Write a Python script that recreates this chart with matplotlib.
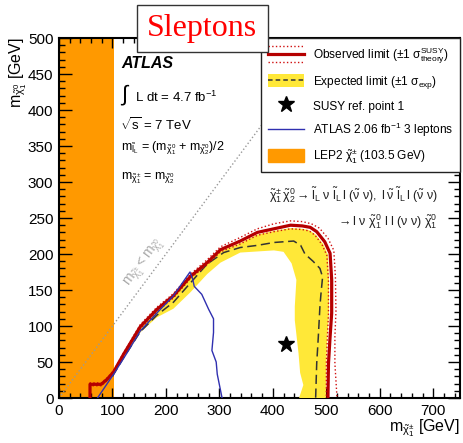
import matplotlib
matplotlib.use("Agg")
import matplotlib.pyplot as plt
from matplotlib.lines import Line2D
from matplotlib.patches import Patch, Rectangle
from matplotlib.legend_handler import HandlerBase
from matplotlib.ticker import MultipleLocator

plt.rcParams['font.family'] = ['Liberation Sans', 'DejaVu Sans']
plt.rcParams['mathtext.fontset'] = 'custom'
plt.rcParams['mathtext.rm'] = 'Liberation Sans'
plt.rcParams['mathtext.it'] = 'Liberation Sans:italic'
plt.rcParams['mathtext.bf'] = 'Liberation Sans:bold'
plt.rcParams['mathtext.default'] = 'regular'

# ---------------- data ----------------
lep_limit = 103.5

obs_x = [58, 58, 79, 90, 102, 121, 152, 183, 214, 246, 277, 302, 339, 371, 402, 433, 455, 470, 482, 497, 507, 510, 510, 507, 504, 503]
obs_y = [0, 19, 19, 26, 36, 61, 99, 123, 142, 169, 188, 206, 218, 230, 235, 240, 239, 237, 231, 217, 201, 164, 118, 85, 48, 0]

obs_up_x = [58, 58, 79, 90, 102, 121, 152, 183, 214, 246, 277, 302, 339, 371, 402, 433, 455, 472, 487, 503, 514, 517, 518, 516, 516, 520]
obs_up_y = [0, 21, 21, 28, 38, 63, 102, 126, 145, 172, 192, 210, 223, 235, 242, 246, 245, 242, 236, 222, 205, 168, 120, 85, 48, 0]

obs_dn_x = [58, 58, 79, 90, 102, 121, 152, 183, 214, 246, 277, 302, 339, 371, 402, 433, 455, 468, 479, 492, 501, 504, 504, 502, 500, 500]
obs_dn_y = [0, 17, 17, 24, 34, 59, 96, 120, 139, 166, 185, 203, 214, 226, 231, 235, 234, 232, 226, 213, 198, 162, 117, 85, 48, 0]

exp_x = [100, 120, 152, 183, 214, 246, 277, 308, 339, 371, 402, 439, 452, 460, 475, 488, 493, 490, 488, 485, 482, 480]
exp_y = [30, 55, 92, 115, 133, 160, 186, 202, 209, 212, 216, 218, 212, 200, 190, 180, 168, 145, 127, 85, 48, 0]

band_out_x = [112, 121, 152, 183, 214, 246, 277, 302, 339, 371, 402, 433, 455, 468, 480, 494, 503, 505, 505, 502, 500, 499]
band_out_y = [50, 59, 97, 121, 140, 167, 186, 204, 215, 227, 232, 236, 235, 233, 227, 214, 199, 163, 118, 85, 48, 0]

band_in_x = [112, 130, 152, 183, 214, 246, 277, 302, 339, 402, 420, 435, 444, 441, 441, 448, 451, 457, 449]
band_in_y = [50, 65, 91, 112, 124, 147, 172, 188, 202, 205, 203, 187, 164, 127, 108, 62, 35, 18, 0]

atl_x = [72, 102, 125, 152, 183, 214, 245, 250, 253, 267, 280, 289, 289, 286, 294, 296, 305]
atl_y = [0, 33, 60, 93, 118, 142, 175, 165, 155, 144, 123, 110, 91, 66, 50, 33, 0]

ref_x = [425]
ref_y = [75]

diag = [0, 500]

x_ticks = [0, 100, 200, 300, 400, 500, 600, 700]
y_ticks = [0, 50, 100, 150, 200, 250, 300, 350, 400, 450, 500]

# ---------------- style ----------------
c_orange = '#ff9900'
c_yellow = '#ffe838'
c_red = '#b50000'
c_red_dot = '#d01010'
c_blue = '#3030b0'

fig = plt.figure(figsize=(4.63, 4.43), dpi=100)
ax = fig.add_axes([59/463, 45/443, 401/463, 360/443])

ax.axvspan(0, lep_limit, color=c_orange, lw=0, zorder=1)
ax.plot(diag, diag, color='#999999', ls=':', lw=1.0, zorder=2)

band_px = band_out_x + band_in_x[::-1]
band_py = band_out_y + band_in_y[::-1]
ax.fill(band_px, band_py, color=c_yellow, lw=0, zorder=3)

ax.plot(exp_x, exp_y, color='#333333', ls=(0, (6, 3)), lw=1.1, zorder=4)
ax.plot(obs_up_x, obs_up_y, color=c_red_dot, ls=':', lw=1.0, zorder=5)
ax.plot(obs_dn_x, obs_dn_y, color=c_red_dot, ls=':', lw=1.0, zorder=5)
ax.plot(obs_x, obs_y, color=c_red, lw=2.3, zorder=6)
ax.plot(atl_x, atl_y, color=c_blue, lw=1.0, zorder=7)
ax.plot(ref_x, ref_y, ls='none', marker='*', color='k', markersize=12, zorder=8)

ax.set_xlim(0, 750)
ax.set_ylim(0, 500)
ax.set_xticks(x_ticks)
ax.set_yticks(y_ticks)
ax.xaxis.set_minor_locator(MultipleLocator(20))
ax.yaxis.set_minor_locator(MultipleLocator(10))
ax.tick_params(which='both', direction='in', top=True, right=True, labelsize=11, width=1.0)
ax.tick_params(axis='x', which='major', length=7, pad=4)
ax.tick_params(axis='x', which='minor', length=3.5)
ax.tick_params(axis='y', which='major', length=9, pad=4)
ax.tick_params(axis='y', which='minor', length=4.5)
for s in ax.spines.values():
    s.set_linewidth(1.5)

# diagonal label
ax.text(160, 187, r'$m_{\tilde{\chi}^{\pm}_{1}} < m_{\tilde{\chi}^{0}_{1}}$', color='#aaaaaa',
        fontsize=10, rotation=53.5, ha='center', va='center', rotation_mode='anchor', zorder=2)

# ATLAS labels
ax.text(0.155, 0.93, 'ATLAS', transform=ax.transAxes, fontsize=11.5, fontweight='bold',
        fontstyle='italic', ha='left', va='center')
ax.text(0.152, 0.84, r'$\int$', transform=ax.transAxes, fontsize=16, ha='left', va='center')
ax.text(0.19, 0.836, r'L dt = 4.7 fb$^{-1}$', transform=ax.transAxes, fontsize=9.5, ha='left', va='center')
ax.text(0.152, 0.761, r'$\sqrt{s}$ = 7 TeV', transform=ax.transAxes, fontsize=9.5, ha='left', va='center')
ax.text(0.155, 0.694, r'$m_{\tilde{l}_{L}}$ = ($m_{\tilde{\chi}^{0}_{1}}$ + $m_{\tilde{\chi}^{0}_{2}}$)/2',
        transform=ax.transAxes, fontsize=9, ha='left', va='center')
ax.text(0.155, 0.611, r'$m_{\tilde{\chi}^{\pm}_{1}}$ = $m_{\tilde{\chi}^{0}_{2}}$',
        transform=ax.transAxes, fontsize=9, ha='left', va='center')

ax.text(0.945, 0.565, r'$\tilde{\chi}^{\pm}_{1}\,\tilde{\chi}^{0}_{2} \rightarrow \tilde{l}_{L}\ \nu\ \tilde{l}_{L}\,l\ (\tilde{\nu}\ \nu),\ l\,\tilde{\nu}\ \tilde{l}_{L}\,l\ (\tilde{\nu}\ \nu)$',
        transform=ax.transAxes, fontsize=9, ha='right', va='center', color='#222222')
ax.text(0.945, 0.49, r'$\rightarrow l\ \nu\ \tilde{\chi}^{0}_{1}\ l\ l\ (\nu\ \nu)\ \tilde{\chi}^{0}_{1}$',
        transform=ax.transAxes, fontsize=9, ha='right', va='center', color='#222222')


class ObsHandler(HandlerBase):
    def create_artists(self, legend, orig_handle, xdescent, ydescent, width, height, fontsize, trans):
        y0 = height / 2 - ydescent
        arts = []
        for dy, ls, lw, c in [(0, '-', 2.3, c_red), (height * 0.6, ':', 1.0, c_red_dot), (-height * 0.6, ':', 1.0, c_red_dot)]:
            l = Line2D([-xdescent, width - xdescent], [y0 + dy, y0 + dy], color=c, ls=ls, lw=lw, transform=trans)
            arts.append(l)
        return arts


obs_handle = object()
handles = [
    obs_handle,
    (Patch(facecolor=c_yellow, edgecolor='none'), Line2D([], [], color='#333333', ls=(0, (3, 2)), lw=1.1)),
    Line2D([], [], ls='none', marker='*', color='k', markersize=12),
    Line2D([], [], color=c_blue, lw=1.0),
    Patch(facecolor=c_orange, edgecolor=c_orange),
]
labels = [
    r'Observed limit ($\pm$1 $\sigma^{\rm SUSY}_{\rm theory}$)',
    r'Expected limit ($\pm$1 $\sigma_{\rm exp}$)',
    'SUSY ref. point 1',
    r'ATLAS 2.06 fb$^{-1}$ 3 leptons',
    r'LEP2 $\tilde{\chi}^{\pm}_{1}$ (103.5 GeV)',
]
leg = ax.legend(handles, labels, handler_map={obs_handle: ObsHandler()}, loc='upper right',
                bbox_to_anchor=(1.0, 1.0), borderaxespad=0, fontsize=8.6, frameon=True,
                fancybox=False, framealpha=1, edgecolor='#222222', handlelength=3.0,
                handleheight=1.3, handletextpad=0.7, labelspacing=0.68, borderpad=0.6)
leg.get_frame().set_linewidth(1.0)
leg.set_zorder(20)

# axis labels
fig.text(18/463, 1 - 37/443, r'$m_{\tilde{\chi}^{0}_{1}}$ [GeV]', rotation=90, ha='center', va='top', fontsize=11.5)
fig.text(460/463, 1 - 428/443, r'$m_{\tilde{\chi}^{\pm}_{1}}$ [GeV]', ha='right', va='center', fontsize=11.5)

# Sleptons box
fig.patches.append(Rectangle((137/463, 1 - 52/443), 131/463, 47/443, transform=fig.transFigure,
                             facecolor='white', edgecolor='#333333', lw=1.0, zorder=10))
fig.text(202/463, 1 - 36/443, 'Sleptons', family='Liberation Serif', color='red', fontsize=23,
         ha='center', va='baseline', zorder=11)

fig.savefig('out.png', dpi=100)
